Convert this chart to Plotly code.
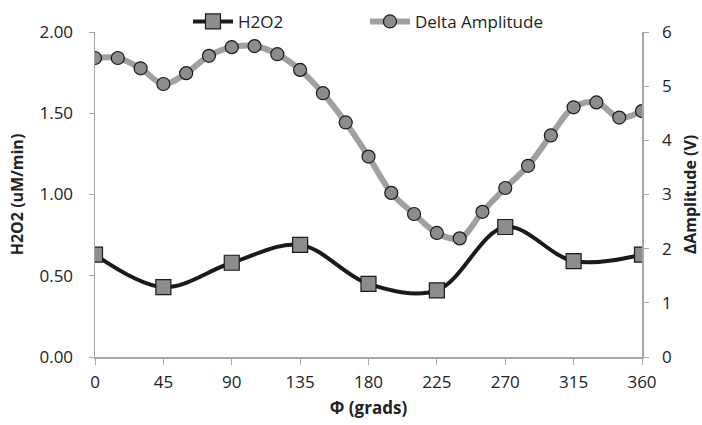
import plotly.graph_objects as go

phi_amp = [0, 15, 30, 45, 60, 75, 90, 105, 120, 135, 150, 165, 180,
           195, 210, 225, 240, 255, 270, 285, 300, 315, 330, 345, 360]
delta_amp = [5.52, 5.52, 5.33, 5.04, 5.24, 5.56, 5.72, 5.74, 5.59, 5.30, 4.87, 4.33, 3.70,
             3.03, 2.64, 2.29, 2.19, 2.68, 3.12, 3.53, 4.09, 4.61, 4.70, 4.42, 4.54]

phi_h2o2 = [0, 45, 90, 135, 180, 225, 270, 315, 360]
h2o2 = [0.63, 0.43, 0.58, 0.69, 0.45, 0.41, 0.80, 0.59, 0.63]

x_ticks = [0, 45, 90, 135, 180, 225, 270, 315, 360]

FONT = "Open Sans"
AX = "#a6a6a6"

fig = go.Figure()
fig.add_trace(go.Scatter(
    x=phi_h2o2, y=h2o2, name="H2O2", mode="lines+markers",
    line=dict(color="#1a1a1a", width=4, shape="spline", smoothing=1.0),
    marker=dict(symbol="square", size=15, color="#8c8c8c",
                line=dict(color="#1a1a1a", width=1.2)),
    yaxis="y", legend="legend"))
fig.add_trace(go.Scatter(
    x=phi_amp, y=delta_amp, name="Delta Amplitude", mode="lines+markers",
    line=dict(color="#a0a0a0", width=6, shape="spline", smoothing=1.0),
    marker=dict(symbol="circle", size=13, color="#8c8c8c",
                line=dict(color="#1a1a1a", width=1.2)),
    yaxis="y2", legend="legend2"))

leg_common = dict(orientation="h", y=1.031, yanchor="middle", xanchor="left",
                  font=dict(size=17, color="#222"), bgcolor="rgba(0,0,0,0)", itemwidth=40)

fig.update_layout(
    width=702, height=425,
    margin=dict(l=95, r=60, t=32, b=68, autoexpand=False),
    paper_bgcolor="white", plot_bgcolor="white",
    font=dict(family=FONT, size=17, color="#222"),
    showlegend=True,
    legend=dict(x=0.170, **leg_common),
    legend2=dict(x=0.4935, **leg_common),
    xaxis=dict(range=[0, 360], tickvals=x_ticks, ticktext=[str(v) for v in x_ticks],
               showgrid=False, zeroline=False, showline=True, linecolor=AX, linewidth=1.5,
               ticks="outside", tickcolor=AX, ticklen=6, ticklabelstandoff=3,
               title=dict(text="<b>Φ (grads)</b>", font=dict(size=17), standoff=10)),
    yaxis=dict(range=[0, 2.0], tickvals=[0, 0.5, 1.0, 1.5, 2.0], tickformat=".2f",
               showgrid=False, zeroline=False, showline=True, linecolor=AX, linewidth=1.5,
               ticks="outside", tickcolor=AX, ticklen=5, ticklabelstandoff=12,
               title=dict(text="<b>H2O2 (uM/min)</b>", font=dict(size=16), standoff=12)),
    yaxis2=dict(range=[0, 6], tickvals=[0, 1, 2, 3, 4, 5, 6], overlaying="y", side="right",
                showgrid=False, zeroline=False, showline=True, linecolor=AX, linewidth=1.5,
                ticks="outside", tickcolor=AX, ticklen=5, ticklabelstandoff=10,
                title=dict(text="<b>ΔAmplitude (V)</b>", font=dict(size=16), standoff=14)),
)

fig.write_html("out.html", config={"displayModeBar": False, "staticPlot": True},
               post_script="document.body.style.margin='0';")
